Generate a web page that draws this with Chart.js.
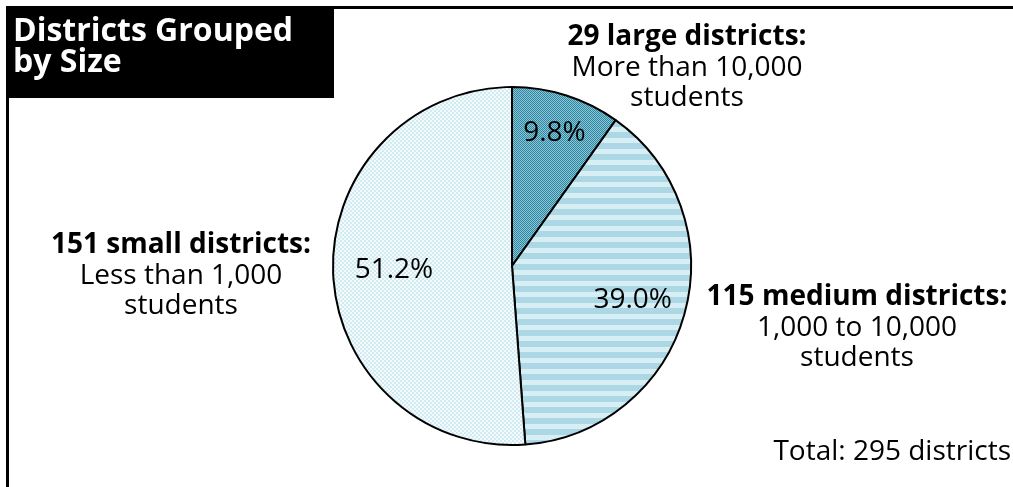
<!DOCTYPE html>
<html>
<head>
<meta charset="utf-8">
<script src="https://cdn.jsdelivr.net/npm/chart.js@4"></script>
<style>
  html, body { margin: 0; padding: 0; background: #fff; }
  #wrap { width: 1013px; height: 487px; position: relative; }
</style>
</head>
<body>
<div id="wrap"><canvas id="pie"></canvas></div>
<script>
// district size groups, drawn clockwise from 12 o'clock
const sizeGroups = ["large", "medium", "small"];
const districtCounts = [29, 115, 151];
const studentRanges = ["More than 10,000", "1,000 to 10,000", "Less than 1,000"];
const titleLines = ["Districts Grouped", "by Size"];

const FONT = "'Open Sans', 'Noto Sans', sans-serif";
const totalDistricts = districtCounts.reduce((a, b) => a + b, 0);

function tile(size, paint) {
  const c = document.createElement("canvas");
  c.width = size; c.height = size;
  paint(c.getContext("2d"));
  return c.getContext("2d").createPattern(c, "repeat");
}

const ctx = document.getElementById("pie").getContext("2d");

// fills: dark checker, horizontal bands, pale checker
const fills = [
  tile(2, g => {
    g.fillStyle = "#8cc6d6"; g.fillRect(0, 0, 2, 2);
    g.fillStyle = "#2f86a0"; g.fillRect(0, 0, 1, 1); g.fillRect(1, 1, 1, 1);
  }),
  (function () {
    const c = document.createElement("canvas");
    c.width = 4; c.height = 11;
    const g = c.getContext("2d");
    g.fillStyle = "#d8eef5"; g.fillRect(0, 0, 4, 11);
    g.fillStyle = "#acd8e5"; g.fillRect(0, 0, 4, 6);
    return ctx.createPattern(c, "repeat");
  })(),
  tile(4, g => {
    g.fillStyle = "#f4fbfd"; g.fillRect(0, 0, 4, 4);
    g.fillStyle = "#d2ebf3"; g.fillRect(0, 0, 2, 2); g.fillRect(2, 2, 2, 2);
  }),
];

// how far out (fraction of radius) each percent label sits
const pctRadius = [0.78, 0.70, 0.66];

// callout text anchors: [centre x, first line y]
const callouts = [
  [687, 37],
  [857, 297],
  [181, 245],
];

const decorations = {
  id: "decorations",
  beforeDraw(chart) {
    const g = chart.ctx;
    g.save();
    g.fillStyle = "#fff";
    g.fillRect(0, 0, chart.width, chart.height);
    // frame: top and left rule
    g.fillStyle = "#000";
    g.fillRect(6, 6, chart.width - 6, 3);
    g.fillRect(6, 6, 3, chart.height - 6);
    // title block
    g.fillRect(6, 6, 328, 92);
    g.fillStyle = "#fff";
    g.font = "bold 32px " + FONT;
    g.textBaseline = "middle";
    g.textAlign = "left";
    titleLines.forEach((t, i) => g.fillText(t, 13, 32 + i * 31));
    g.restore();
  },
  afterDatasetsDraw(chart) {
    const g = chart.ctx;
    const meta = chart.getDatasetMeta(0);
    g.save();
    g.fillStyle = "#000";
    g.textBaseline = "middle";
    g.textAlign = "center";
    g.font = "28px " + FONT;
    meta.data.forEach((arc, i) => {
      const p = arc.getProps(["x", "y", "startAngle", "endAngle", "outerRadius"], true);
      const mid = (p.startAngle + p.endAngle) / 2;
      const r = p.outerRadius * pctRadius[i];
      const pct = (districtCounts[i] / totalDistricts * 100).toFixed(1) + "%";
      g.fillText(pct, p.x + Math.cos(mid) * r, p.y + Math.sin(mid) * r);
    });
    sizeGroups.forEach((name, i) => {
      const [cx, cy] = callouts[i];
      g.font = "bold 28px " + FONT;
      g.fillText(districtCounts[i] + " " + name + " districts:", cx, cy);
      g.font = "28px " + FONT;
      g.fillText(studentRanges[i], cx, cy + 31);
      g.fillText("students", cx, cy + 61);
    });
    g.textAlign = "right";
    g.fillText("Total: " + totalDistricts + " districts", 1011, 452);
    g.restore();
  },
};

new Chart(ctx, {
  type: "pie",
  data: {
    labels: sizeGroups,
    datasets: [{
      data: districtCounts,
      backgroundColor: fills,
      borderColor: "#000",
      borderWidth: 2,
      radius: 179,
    }],
  },
  options: {
    responsive: true,
    maintainAspectRatio: false,
    animation: false,
    layout: { padding: { left: 11, right: 0, top: 87, bottom: 42 } },
    plugins: {
      legend: { display: false },
      tooltip: { enabled: false },
    },
  },
  plugins: [decorations],
});
</script>
</body>
</html>
